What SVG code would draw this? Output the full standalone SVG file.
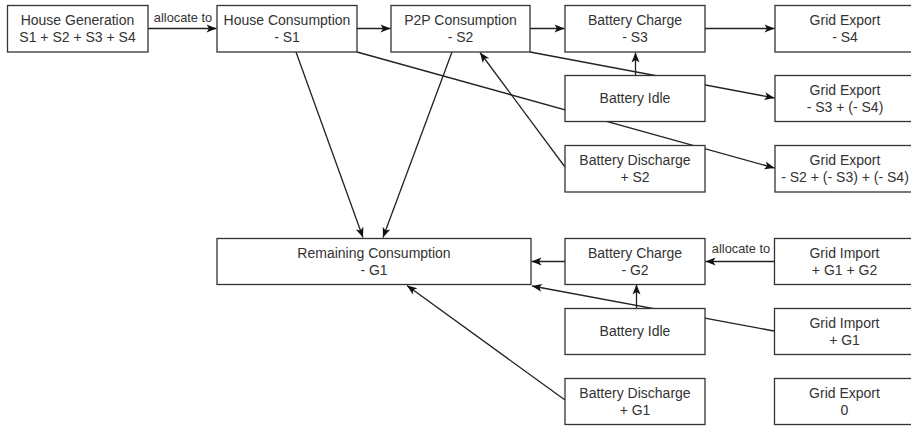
<svg xmlns="http://www.w3.org/2000/svg" width="911" height="426" viewBox="0 0 911 426">
  <style>
    .box { fill: #ffffff; stroke: #333333; stroke-width: 1.3; }
    .lbl { font-family: "Liberation Sans", Arial, sans-serif; font-size: 14px; fill: #333333; text-anchor: middle; }
    .elbl { font-family: "Liberation Sans", Arial, sans-serif; font-size: 12.8px; fill: #333333; text-anchor: middle; }
    .edge { fill: none; stroke: #222222; stroke-width: 1.3; }
    .arr { marker-end: url(#arrow); }
  </style>
  <defs>
    <marker id="arrow" markerUnits="userSpaceOnUse" markerWidth="12" markerHeight="10" viewBox="0 0 12 10" refX="10.5" refY="5" orient="auto">
      <path d="M0.5,1 L10.5,5 L0.5,9 L3,5 z" fill="#111111"/>
    </marker>
  </defs>

  <!-- connectors -->
  <g id="connectors">
    <line class="edge arr" x1="148" y1="28.5" x2="216.5" y2="28.5"/>
    <text class="elbl" x="183" y="22">allocate to</text>
    <line class="edge arr" x1="357" y1="28.5" x2="390.5" y2="28.5"/>
    <line class="edge arr" x1="530" y1="28.5" x2="564.5" y2="28.5"/>
    <line class="edge arr" x1="705" y1="28.5" x2="774.5" y2="28.5"/>
    <line class="edge arr" x1="635.5" y1="75" x2="635.5" y2="52.5"/>
    <line class="edge arr" x1="530" y1="52" x2="774.5" y2="98"/>
    <line class="edge arr" x1="357" y1="52" x2="774.5" y2="168"/>
    <line class="edge arr" x1="565" y1="167" x2="480" y2="52.5"/>
    <line class="edge arr" x1="296" y1="52" x2="363" y2="237.5"/>
    <line class="edge arr" x1="452" y1="52" x2="383" y2="237.5"/>

    <line class="edge arr" x1="774" y1="261.5" x2="705.5" y2="261.5"/>
    <text class="elbl" x="741" y="253">allocate to</text>
    <line class="edge arr" x1="565" y1="261.5" x2="531.5" y2="261.5"/>
    <line class="edge arr" x1="636.5" y1="308" x2="636.5" y2="284.5"/>
    <line class="edge arr" x1="774" y1="331" x2="532" y2="286"/>
    <line class="edge arr" x1="565" y1="400" x2="407" y2="285.5"/>
  </g>

  <!-- upper block: solar allocation -->
  <g id="house-generation">
    <rect class="box" x="7.5" y="5.5" width="140.5" height="46.5"/>
    <text class="lbl" x="77.5" y="25">House Generation</text>
    <text class="lbl" x="77.5" y="42">S1 + S2 + S3 + S4</text>
  </g>
  <g id="house-consumption">
    <rect class="box" x="217" y="5.5" width="140" height="46.5"/>
    <text class="lbl" x="287" y="25">House Consumption</text>
    <text class="lbl" x="287" y="42">- S1</text>
  </g>
  <g id="p2p-consumption">
    <rect class="box" x="391" y="5.5" width="139" height="46.5"/>
    <text class="lbl" x="460.5" y="25">P2P Consumption</text>
    <text class="lbl" x="460.5" y="42">- S2</text>
  </g>
  <g id="battery-charge-s3">
    <rect class="box" x="565" y="5.5" width="140" height="46.5"/>
    <text class="lbl" x="635" y="25">Battery Charge</text>
    <text class="lbl" x="635" y="42">- S3</text>
  </g>
  <g id="grid-export-s4">
    <rect class="box" x="775" y="5.5" width="140" height="46.5"/>
    <text class="lbl" x="845" y="25">Grid Export</text>
    <text class="lbl" x="845" y="42">- S4</text>
  </g>
  <g id="battery-idle-s">
    <rect class="box" x="565" y="75.5" width="140" height="46"/>
    <text class="lbl" x="635" y="103">Battery Idle</text>
  </g>
  <g id="grid-export-s3s4">
    <rect class="box" x="775" y="75.5" width="140" height="46"/>
    <text class="lbl" x="845" y="95">Grid Export</text>
    <text class="lbl" x="845" y="112">- S3 + (- S4)</text>
  </g>
  <g id="battery-discharge-s2">
    <rect class="box" x="565" y="145.5" width="140" height="46.5"/>
    <text class="lbl" x="635" y="165">Battery Discharge</text>
    <text class="lbl" x="635" y="182">+ S2</text>
  </g>
  <g id="grid-export-s2s3s4">
    <rect class="box" x="775" y="145.5" width="140" height="46.5"/>
    <text class="lbl" x="845" y="165">Grid Export</text>
    <text class="lbl" x="845" y="182">- S2 + (- S3) + (- S4)</text>
  </g>

  <!-- lower block: grid allocation -->
  <g id="remaining-consumption">
    <rect class="box" x="217" y="238.5" width="314" height="46"/>
    <text class="lbl" x="374" y="258">Remaining Consumption</text>
    <text class="lbl" x="374" y="275">- G1</text>
  </g>
  <g id="battery-charge-g2">
    <rect class="box" x="565" y="238.5" width="140" height="46"/>
    <text class="lbl" x="635" y="258">Battery Charge</text>
    <text class="lbl" x="635" y="275">- G2</text>
  </g>
  <g id="grid-import-g1g2">
    <rect class="box" x="774.5" y="238.5" width="140" height="46"/>
    <text class="lbl" x="844.5" y="258">Grid Import</text>
    <text class="lbl" x="844.5" y="275">+ G1 + G2</text>
  </g>
  <g id="battery-idle-g">
    <rect class="box" x="565" y="308.5" width="140" height="46"/>
    <text class="lbl" x="635" y="336">Battery Idle</text>
  </g>
  <g id="grid-import-g1">
    <rect class="box" x="774.5" y="308.5" width="140" height="46"/>
    <text class="lbl" x="844.5" y="328">Grid Import</text>
    <text class="lbl" x="844.5" y="345">+ G1</text>
  </g>
  <g id="battery-discharge-g1">
    <rect class="box" x="565" y="378.5" width="140" height="46"/>
    <text class="lbl" x="635" y="398">Battery Discharge</text>
    <text class="lbl" x="635" y="415">+ G1</text>
  </g>
  <g id="grid-export-zero">
    <rect class="box" x="774.5" y="378.5" width="140" height="46"/>
    <text class="lbl" x="844.5" y="398">Grid Export</text>
    <text class="lbl" x="844.5" y="415">0</text>
  </g>
</svg>
